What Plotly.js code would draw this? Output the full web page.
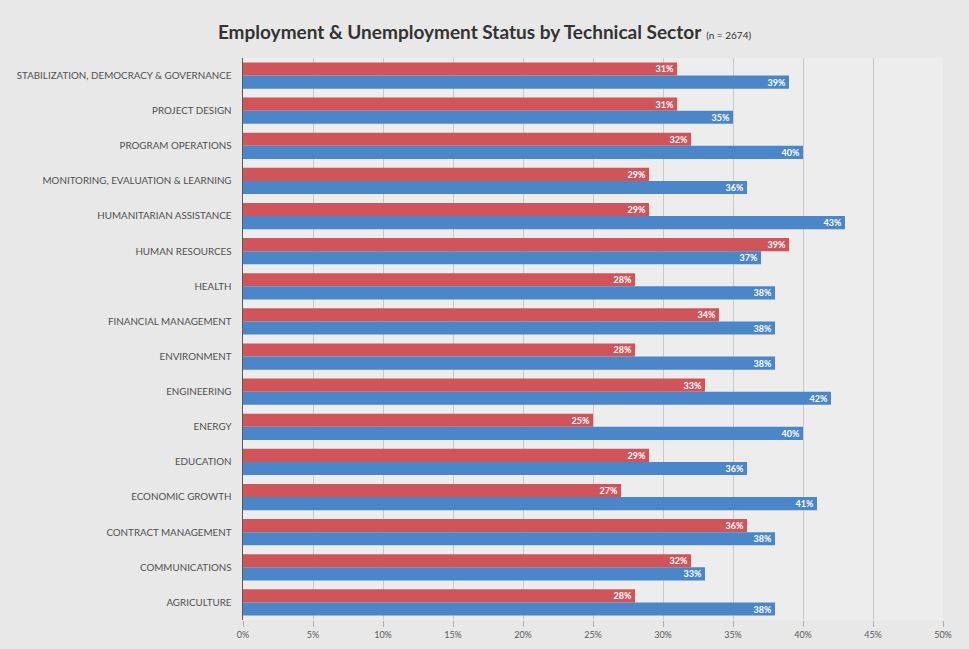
<!DOCTYPE html>
<html>
<head>
<meta charset="utf-8">
<script src="https://cdn.plot.ly/plotly-3.0.1.min.js"></script>
<style>html,body{margin:0;padding:0;background:#e8e8e8;}#chart{width:969px;height:649px;}</style>
</head>
<body>
<div id="chart"></div>
<script>
var sectors = [
  "STABILIZATION, DEMOCRACY & GOVERNANCE",
  "PROJECT DESIGN",
  "PROGRAM OPERATIONS",
  "MONITORING, EVALUATION & LEARNING",
  "HUMANITARIAN ASSISTANCE",
  "HUMAN RESOURCES",
  "HEALTH",
  "FINANCIAL MANAGEMENT",
  "ENVIRONMENT",
  "ENGINEERING",
  "ENERGY",
  "EDUCATION",
  "ECONOMIC GROWTH",
  "CONTRACT MANAGEMENT",
  "COMMUNICATIONS",
  "AGRICULTURE"
];
var redValues  = [31, 31, 32, 29, 29, 39, 28, 34, 28, 33, 25, 29, 27, 36, 32, 28];
var blueValues = [39, 35, 40, 36, 43, 37, 38, 38, 38, 42, 40, 36, 41, 38, 33, 38];
var xTickVals = [0, 5, 10, 15, 20, 25, 30, 35, 40, 45, 50];
var xTickText = ["0%", "5%", "10%", "15%", "20%", "25%", "30%", "35%", "40%", "45%", "50%"];

function pct(arr){ return arr.map(function(v){ return v + "%"; }); }

var common = {
  type: "bar",
  orientation: "h",
  y: sectors,
  textposition: "inside",
  insidetextanchor: "end",
  constraintext: "none",
  textfont: {family: "Lato, 'Open Sans', sans-serif", size: 9, color: "#ffffff", weight: "bold"},
  hoverinfo: "x+y",
  showlegend: false
};

var traceRed = Object.assign({}, common, {
  name: "Red",
  x: redValues,
  text: pct(redValues),
  marker: {color: "#d0555a", line: {width: 0}}
});
var traceBlue = Object.assign({}, common, {
  name: "Blue",
  x: blueValues,
  text: pct(blueValues),
  marker: {color: "#4b86c9", line: {width: 0}}
});

var layout = {
  width: 969,
  height: 649,
  paper_bgcolor: "#e8e8e8",
  plot_bgcolor: "#ededed",
  margin: {l: 243, r: 26, t: 58, b: 29},
  barmode: "group",
  bargap: 0.25,
  bargroupgap: 0,
  title: {
    text: "<b>Employment &amp; Unemployment Status by Technical Sector</b> <span style='font-size:10px'>(n = 2674)</span>",
    font: {family: "Lato, 'Open Sans', sans-serif", size: 19, color: "#333333"},
    x: 0.5, xanchor: "center", y: 0.95, yanchor: "middle"
  },
  xaxis: {
    range: [0, 50],
    tickvals: xTickVals,
    ticktext: xTickText,
    showgrid: true,
    gridcolor: "#c8c8c8",
    gridwidth: 1,
    zeroline: false,
    showline: false,
    ticks: "outside",
    ticklen: 6,
    tickcolor: "#b0b0b0",
    tickfont: {family: "Lato, 'Open Sans', sans-serif", size: 9, color: "#595959"},
    fixedrange: true
  },
  yaxis: {
    autorange: "reversed",
    showgrid: false,
    showline: true,
    linecolor: "#595959",
    linewidth: 1.5,
    ticks: "",
    ticklabelstandoff: 8,
    tickfont: {family: "Lato, 'Open Sans', sans-serif", size: 9.8, color: "#505050"},
    fixedrange: true
  }
};

Plotly.newPlot("chart", [traceRed, traceBlue], layout, {displayModeBar: false, staticPlot: true});
</script>
</body>
</html>
